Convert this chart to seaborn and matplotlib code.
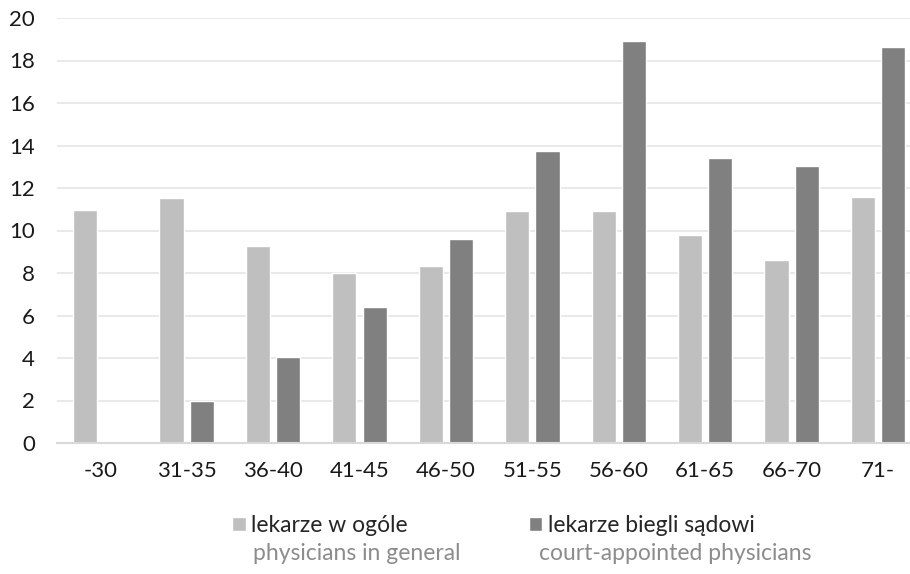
import numpy as np
import pandas as pd
import matplotlib.pyplot as plt
import seaborn as sns

categories = ["-30", "31-35", "36-40", "41-45", "46-50", "51-55", "56-60", "61-65", "66-70", "71-"]
general = [10.95, 11.55, 9.25, 8.0, 8.35, 10.9, 10.9, 9.8, 8.6, 11.6]
court = [0.0, 2.0, 4.05, 6.4, 9.6, 13.75, 18.9, 13.4, 13.05, 18.65]
series_pl = ["lekarze w ogóle", "lekarze biegli sądowi"]
series_en = ["physicians in general", "court-appointed physicians"]

df = pd.DataFrame({"category": categories, series_pl[0]: general, series_pl[1]: court})
df = df.melt(id_vars="category", var_name="series", value_name="value")

sns.set_style("white")
plt.rcParams["font.family"] = ["Lato", "DejaVu Sans"]

fig = plt.figure(figsize=(9.1, 5.74), dpi=100)
ax = fig.add_axes([57 / 910, 1 - 443 / 574, 1 - 57 / 910, (443 - 18) / 574])

sns.barplot(data=df, x="category", y="value", hue="series",
            palette=["#bfbfbf", "#808080"], width=0.7, gap=0.2,
            saturation=1, ax=ax)

ax.set_ylim(0, 20)
ax.set_yticks(np.arange(0, 21, 2))
ax.set_xlim(-0.5, 9.37)
ax.yaxis.grid(True, color="#e3e3e3", linewidth=1.1)
ax.set_axisbelow(True)
for s in ["top", "right", "left"]:
    ax.spines[s].set_visible(False)
ax.spines["bottom"].set_color("#d9d9d9")
ax.spines["bottom"].set_linewidth(1.5)
ax.tick_params(axis="x", length=0, pad=13, labelsize=16, labelcolor="#1a1a1a")
ax.tick_params(axis="y", length=0, pad=16, labelsize=16, labelcolor="#1a1a1a")
ax.set_xlabel("")
ax.set_ylabel("")

handles, labels = ax.get_legend_handles_labels()
ax.legend(handles, labels, loc="center left",
          bbox_to_anchor=(221 / 910, 1 - 526 / 574), bbox_transform=fig.transFigure,
          ncol=2, frameon=False, fontsize=16.5, borderpad=0,
          handlelength=0.57, handleheight=0.57, handletextpad=0.25, columnspacing=5.3)

fig.text(253 / 910, 1 - 554 / 574, series_en[0], fontsize=16.5, color="#8c8c8c", va="center")
fig.text(539 / 910, 1 - 554 / 574, series_en[1], fontsize=16.5, color="#8c8c8c", va="center")

fig.savefig("out.png", dpi=100)
